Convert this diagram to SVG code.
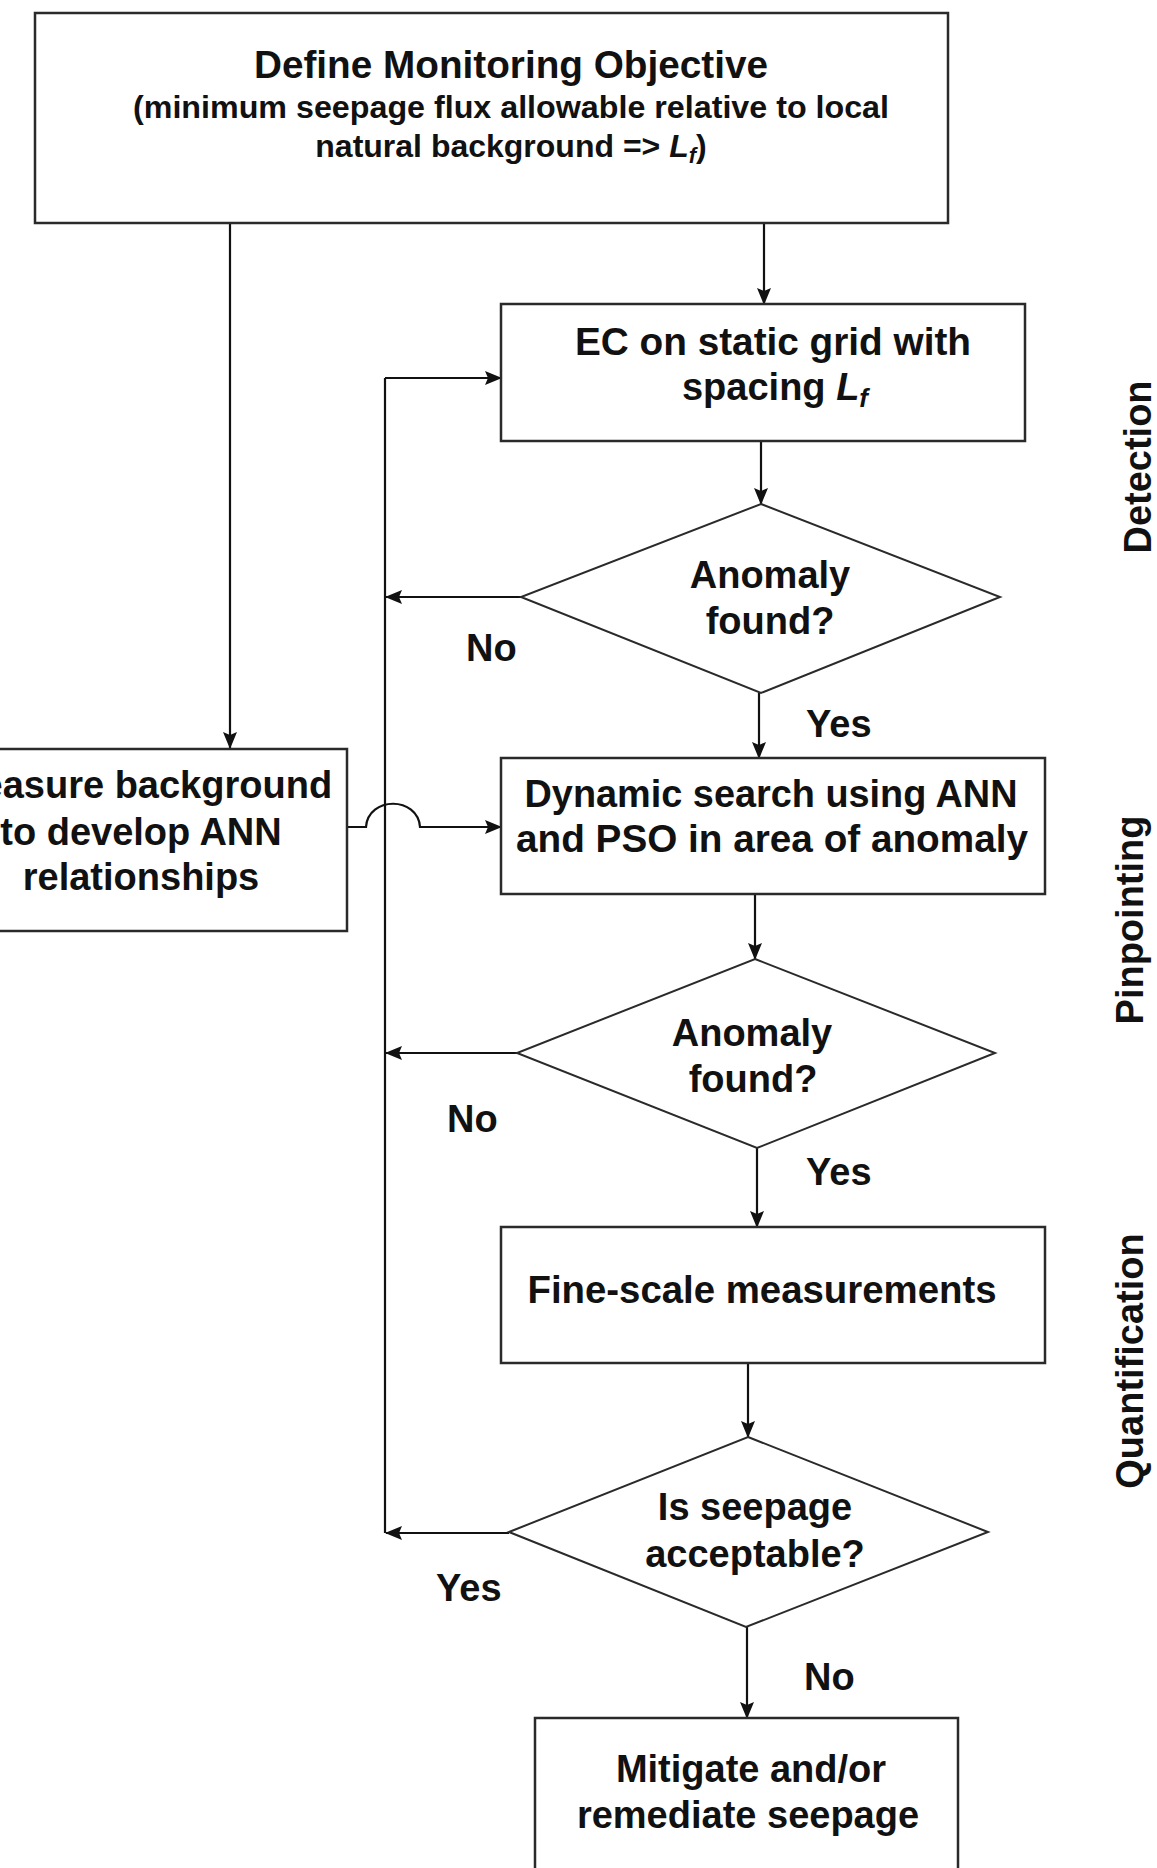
<svg xmlns="http://www.w3.org/2000/svg" width="1157" height="1868" viewBox="0 0 1157 1868">
<defs>
<marker id="ah" markerWidth="17" markerHeight="14" refX="16" refY="7" orient="auto" markerUnits="userSpaceOnUse">
<path d="M0,0 L17,7 L0,14 L3,7 Z" fill="#111"/>
</marker>
<style>
.box{fill:#fff;stroke:#2a2a2a;stroke-width:2.5}
.dia{fill:#fff;stroke:#2a2a2a;stroke-width:2}
.t{font-family:"Liberation Sans",Arial,sans-serif;font-weight:bold;font-size:38px;fill:#111}
.m{text-anchor:middle}
.s{font-size:32px}
.c{fill:none;stroke:#111;stroke-width:2.2}
.ca{fill:none;stroke:#111;stroke-width:2.2;marker-end:url(#ah)}
</style>
</defs>
<rect width="1157" height="1868" fill="#fff"/>

<g id="connectors">
<path class="ca" d="M230,223 V748"/>
<path class="ca" d="M764,223 V304"/>
<path class="ca" d="M761,441 V504"/>
<path class="ca" d="M521,597 H386"/>
<path class="ca" d="M759,693 V758"/>
<path class="ca" d="M755,894 V959"/>
<path class="ca" d="M517,1053 H386"/>
<path class="ca" d="M757,1148 V1227"/>
<path class="ca" d="M748,1363 V1437"/>
<path class="ca" d="M509,1533 H386"/>
<path class="ca" d="M747,1627 V1718"/>
<path class="c" d="M385,1533 V378"/>
<path class="ca" d="M385,378 H501"/>
<path class="ca" d="M347,827 H366 C368,796 418,796 420,827 H501"/>
</g>

<g id="n-objective">
<rect class="box" x="35" y="13" width="913" height="210"/>
<text class="t m" x="511" y="78" textLength="514" lengthAdjust="spacingAndGlyphs">Define Monitoring Objective</text>
<text class="t m s" x="511" y="118" textLength="756" lengthAdjust="spacingAndGlyphs">(minimum seepage flux allowable relative to local</text>
<text class="t m s" x="511" y="157">natural background =&gt; <tspan font-style="italic">L</tspan><tspan font-style="italic" font-size="22" dy="6">f</tspan><tspan dy="-6">)</tspan></text>
</g>

<g id="n-ec">
<rect class="box" x="501" y="304" width="524" height="137"/>
<text class="t m" x="773" y="355" textLength="396" lengthAdjust="spacingAndGlyphs">EC on static grid with</text>
<text class="t m" x="775" y="400">spacing <tspan font-style="italic">L</tspan><tspan font-style="italic" font-size="26" dy="7">f</tspan></text>
</g>

<g id="n-dec1">
<polygon class="dia" points="761,504 1000,597 761,693 521,597"/>
<text class="t m" x="770" y="588">Anomaly</text>
<text class="t m" x="770" y="634">found?</text>
</g>

<g id="n-measure">
<rect class="box" x="-60" y="749" width="407" height="182"/>
<text class="t m" x="141" y="798">Measure background</text>
<text class="t m" x="141" y="845">to develop ANN</text>
<text class="t m" x="141" y="890">relationships</text>
</g>

<g id="n-dynamic">
<rect class="box" x="501" y="758" width="544" height="136"/>
<text class="t m" x="771" y="807" textLength="493" lengthAdjust="spacingAndGlyphs">Dynamic search using ANN</text>
<text class="t m" x="772" y="852" textLength="512" lengthAdjust="spacingAndGlyphs">and PSO in area of anomaly</text>
</g>

<g id="n-dec2">
<polygon class="dia" points="755,959 995,1053 757,1148 517,1053"/>
<text class="t m" x="752" y="1046">Anomaly</text>
<text class="t m" x="753" y="1092">found?</text>
</g>

<g id="n-fine">
<rect class="box" x="501" y="1227" width="544" height="136"/>
<text class="t m" x="762" y="1303" textLength="469" lengthAdjust="spacingAndGlyphs">Fine-scale measurements</text>
</g>

<g id="n-dec3">
<polygon class="dia" points="748,1437 988,1532 746,1627 509,1532"/>
<text class="t m" x="755" y="1520">Is seepage</text>
<text class="t m" x="755" y="1567">acceptable?</text>
</g>

<g id="n-mitigate">
<rect class="box" x="535" y="1718" width="423" height="170"/>
<text class="t m" x="751" y="1782">Mitigate and/or</text>
<text class="t m" x="748" y="1828">remediate seepage</text>
</g>

<g id="labels">
<text class="t" x="466" y="661" font-size="36">No</text>
<text class="t" x="806" y="737" font-size="36">Yes</text>
<text class="t" x="447" y="1132" font-size="36">No</text>
<text class="t" x="806" y="1185" font-size="36">Yes</text>
<text class="t" x="436" y="1601" font-size="36">Yes</text>
<text class="t" x="804" y="1690" font-size="36">No</text>
</g>

<g id="phases">
<text class="t m" transform="translate(1151,467) rotate(-90)">Detection</text>
<text class="t m" transform="translate(1143,920) rotate(-90)">Pinpointing</text>
<text class="t m" transform="translate(1143,1361) rotate(-90)">Quantification</text>
</g>
</svg>
